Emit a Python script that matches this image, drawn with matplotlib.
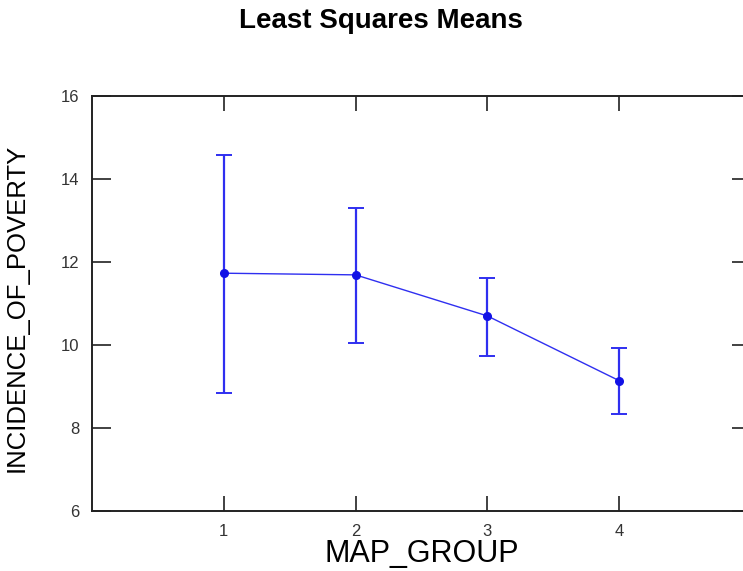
import matplotlib.pyplot as plt
import numpy as np

# values
groups = [1, 2, 3, 4]
means = [11.73, 11.69, 10.70, 9.14]
upper = [14.59, 13.29, 11.62, 9.92]
lower = [8.84, 10.05, 9.73, 8.34]

means = np.array(means)
yerr = [means - np.array(lower), np.array(upper) - means]

plt.rcParams['font.family'] = ['Liberation Sans', 'DejaVu Sans']

fig = plt.figure(figsize=(7.43, 5.71), dpi=100)
# axes runs past the right edge, as in the cropped original
ax = fig.add_axes([92 / 743, 1 - 511 / 571, 659 / 743, 415 / 571])

ax.errorbar(groups, means, yerr=yerr, color='#2f2ff0', lw=1.0,
            elinewidth=1.6, capsize=6, capthick=1.4,
            marker='o', ms=5.5, mfc='#1212e6', mec='#1212e6')

ax.set_xlim(0, 5)
ax.set_ylim(6, 16)
ax.set_xticks(groups)
ax.set_yticks([6, 8, 10, 12, 14, 16])

for s in ax.spines.values():
    s.set_linewidth(1.4)
    s.set_color('#222222')

ax.tick_params(axis='both', direction='in', top=True, right=True,
               labelsize=12, colors='#333333', width=1.3)
ax.tick_params(axis='y', length=14, pad=9)
ax.tick_params(axis='x', length=11, pad=9)

ax.set_xlabel('MAP_GROUP', fontsize=22, labelpad=0)
ax.set_ylabel('INCIDENCE_OF_POVERTY', fontsize=18.5)
ax.yaxis.set_label_coords(-0.096, 0.49)

fig.text(381 / 743, 1 - 21 / 571, 'Least Squares Means', fontsize=20,
         fontweight='bold', ha='center', va='center')

fig.savefig('out.png', dpi=100)
plt.close(fig)
